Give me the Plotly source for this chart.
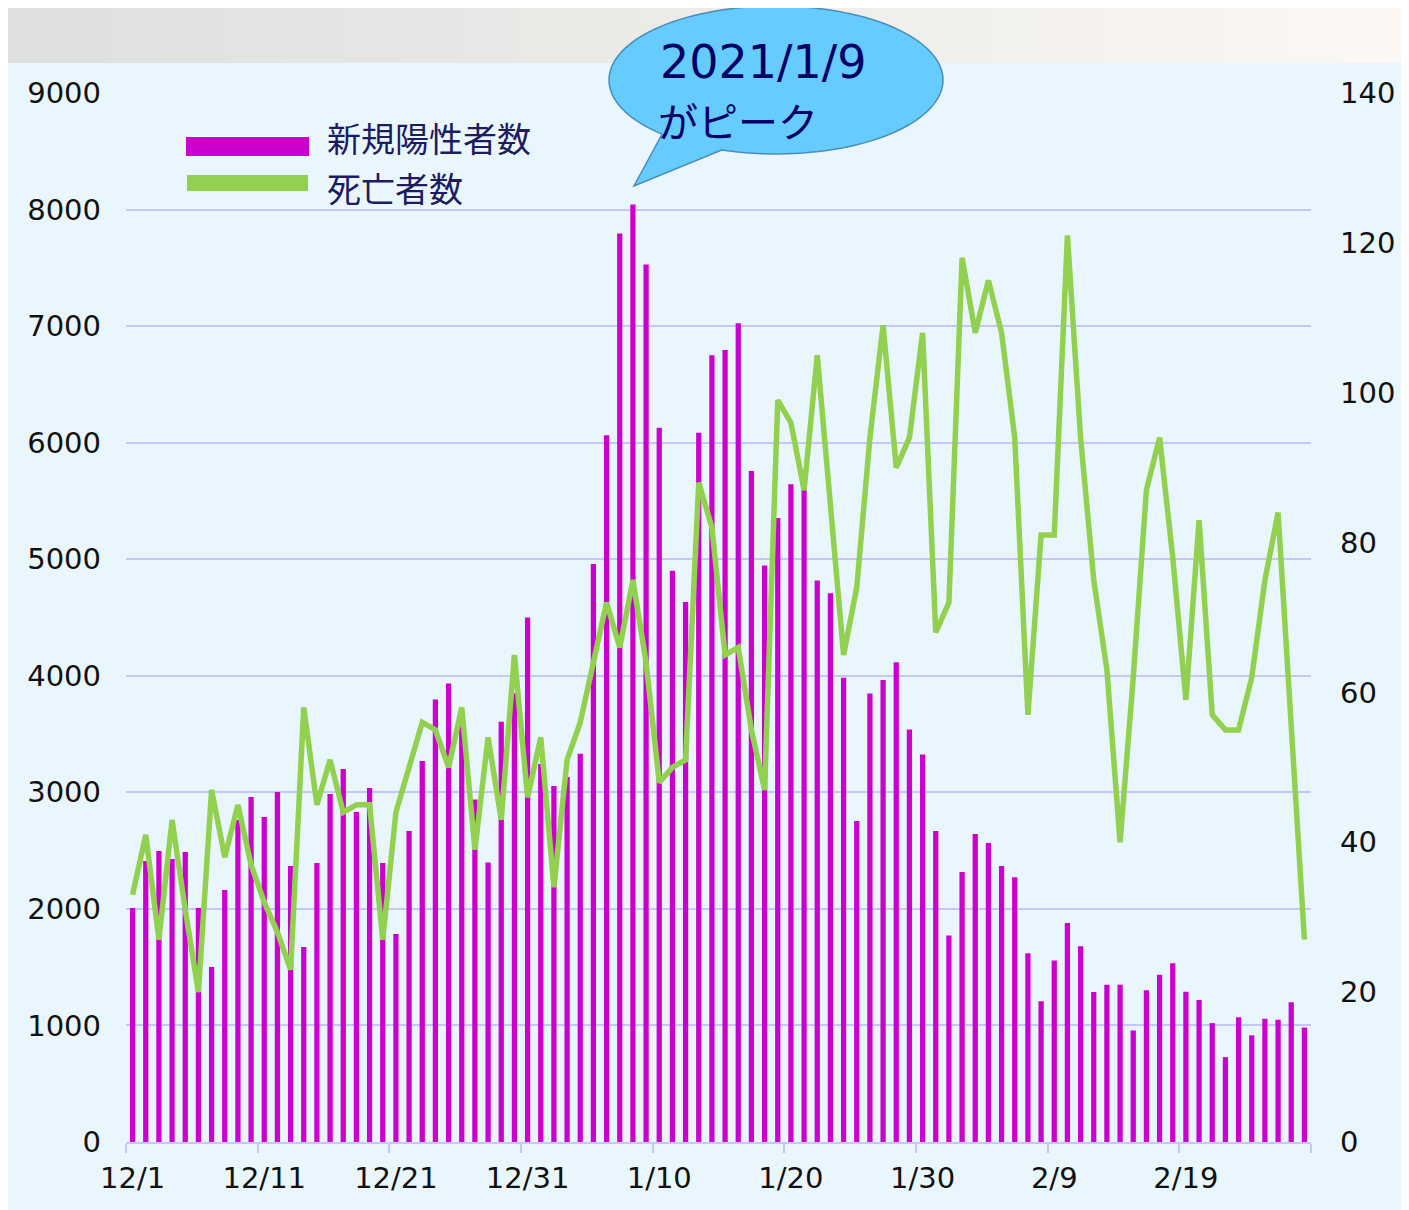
import numpy as np
import pandas as pd
import plotly.graph_objects as go

# ---------------- data ----------------
dates = pd.date_range("2020-12-01", "2021-02-28", freq="D")
date_labels = [f"{d.month}/{d.day}" for d in dates]

new_cases = [
    2008, 2411, 2497, 2428, 2488, 2008, 1501, 2162, 2762, 2960,
    2788, 3003, 2368, 1673, 2394, 2986, 3200, 2831, 3037, 2394,
    1785, 2668, 3269, 3796, 3933, 3650, 2939, 2397, 3606, 3850,
    4499, 3244, 3055, 3131, 3330, 4959, 6063, 7794, 8043, 7528,
    6129, 4901, 4633, 6085, 6751, 6795, 7025, 5757, 4946, 5354,
    5643, 5597, 4817, 4709, 3983, 2754, 3847, 3964, 4115, 3540,
    3325, 2668, 1772, 2317, 2643, 2566, 2368, 2271, 1619, 1207,
    1558, 1879, 1680, 1288, 1349, 1349, 957, 1303, 1436, 1533,
    1290, 1219, 1020, 728, 1070, 915, 1057, 1049, 1199, 982,
]

deaths = [
    33, 41, 27, 43, 31, 20, 47, 38, 45, 37,
    32, 28, 23, 58, 45, 51, 44, 45, 45, 27,
    44, 50, 56, 55, 50, 58, 39, 54, 43, 65,
    46, 54, 34, 51, 56, 64, 72, 66, 75, 64,
    48, 50, 51, 88, 82, 65, 66, 55, 47, 99,
    96, 87, 105, 85, 65, 74, 94, 109, 90, 94,
    108, 68, 72, 118, 108, 115, 108, 94, 57, 81,
    81, 121, 94, 75, 63, 40, 62, 87, 94, 78,
    59, 83, 57, 55, 55, 62, 75, 84, 54, 27,
]

tick_labels = ["12/1", "12/11", "12/21", "12/31", "1/10", "1/20", "1/30", "2/9", "2/19"]
left_ticks = [0, 1000, 2000, 3000, 4000, 5000, 6000, 7000, 8000, 9000]
right_ticks = [0, 20, 40, 60, 80, 100, 120, 140]

series_names = ["新規陽性者数", "死亡者数"]
callout_lines = ["2021/1/9", "がピーク"]

# ---------------- geometry helpers ----------------
# reference-pixel plot box: x 126..1311, y 93..1142
OFF = 8  # page body margin of the html page
W, H = 1409 - OFF, 1210 - OFF
RL, RT, RPW, RPH = 126, 93, 1185, 1049
L, T = RL - OFF, RT - OFF
R = W - L - RPW
B = H - T - RPH


def px(x):
    return (x - RL) / RPW


def py(y):
    return (RT + RPH - y) / RPH


x_idx = list(range(len(date_labels)))
tick_pos = [date_labels.index(t) for t in tick_labels]
boundaries = [i - 0.5 for i in tick_pos] + [len(date_labels) - 0.5]

MAGENTA = "#CC00CC"
GREEN = "#92D050"
GRID = "#C5C7F9"
BG = "#EAF6FE"
NAVY = "#1C1C5E"

fig = go.Figure()
fig.add_trace(go.Bar(
    x=x_idx, y=new_cases, name=series_names[0], width=0.4,
    marker=dict(color=MAGENTA, line=dict(width=0)),
    showlegend=False,
))
fig.add_trace(go.Scatter(
    x=x_idx, y=deaths, name=series_names[1], yaxis="y2", mode="lines",
    line=dict(color=GREEN, width=5.5), showlegend=False,
))

shapes = []
# top grey band (approximate gradient)
n = 24
c0 = np.array([221, 224, 223])
c1 = np.array([252, 247, 243])
for i in range(n):
    c = (c0 + (c1 - c0) * i / (n - 1)).astype(int)
    shapes.append(dict(type="rect", xref="paper", yref="paper",
                       x0=px(1409 * i / n - 10), x1=px(1409 * (i + 1) / n + 1),
                       y0=py(63), y1=py(-20), fillcolor=f"rgb({c[0]},{c[1]},{c[2]})",
                       line=dict(width=0), layer="below"))
# left thin strip
shapes.append(dict(type="rect", xref="paper", yref="paper",
                   x0=px(-10), x1=px(5), y0=py(1230), y1=py(63),
                   fillcolor="#C9D4DA", line=dict(width=0), layer="below"))

# legend swatches
shapes.append(dict(type="rect", xref="paper", yref="paper",
                   x0=px(186), x1=px(309), y0=py(156), y1=py(137),
                   fillcolor=MAGENTA, line=dict(width=0)))
shapes.append(dict(type="rect", xref="paper", yref="paper",
                   x0=px(187), x1=px(308), y0=py(191), y1=py(175),
                   fillcolor=GREEN, line=dict(width=0)))

# callout bubble (ellipse + tail as one path)
cx, cy, rx, ry = 776, 80, 167, 74
th = np.radians(np.linspace(133.0, 469.0, 120))
ex = cx + rx * np.cos(th)
ey = cy + ry * np.sin(th)
pts = [(px(a), py(b)) for a, b in zip(ex, ey)]
pts.append((px(634), py(186)))
path = "M " + " L ".join(f"{a:.5f},{b:.5f}" for a, b in pts) + " Z"
shapes.append(dict(type="path", xref="paper", yref="paper", path=path,
                   fillcolor="#66CCFF", line=dict(color="#4A8DB8", width=1.5)))

annotations = [
    dict(text=series_names[0], x=px(325), y=py(137), xref="paper", yref="paper",
         xanchor="left", yanchor="middle", showarrow=False,
         font=dict(size=34, color=NAVY, family="Noto Sans CJK JP")),
    dict(text=series_names[1], x=px(325), y=py(187), xref="paper", yref="paper",
         xanchor="left", yanchor="middle", showarrow=False,
         font=dict(size=34, color=NAVY, family="Noto Sans CJK JP")),
    dict(text=callout_lines[0], x=px(658), y=py(62), xref="paper", yref="paper",
         xanchor="left", yanchor="middle", showarrow=False,
         font=dict(size=46, color="#000066", family="DejaVu Sans")),
    dict(text=callout_lines[1], x=px(656), y=py(120), xref="paper", yref="paper",
         xanchor="left", yanchor="middle", showarrow=False,
         font=dict(size=40, color="#000066", family="Noto Sans CJK JP")),
]

tick_font = dict(size=29, color="#111111", family="DejaVu Sans")

fig.update_layout(
    width=W, height=H,
    margin=dict(l=L, r=R, t=T, b=B, pad=0),
    paper_bgcolor=BG, plot_bgcolor=BG,
    font=dict(family="Noto Sans CJK JP"),
    showlegend=False,
    shapes=shapes,
    annotations=annotations,
    xaxis=dict(
        range=[-0.5, len(date_labels) - 0.5],
        tickmode="array", tickvals=tick_pos, ticktext=tick_labels,
        ticks="", showgrid=False, zeroline=False,
        showline=True, linecolor=GRID, linewidth=2,
        tickfont=tick_font, ticklabelstandoff=9,
        minor=dict(tickmode="array", tickvals=boundaries, ticks="outside",
                   ticklen=9, tickwidth=2, tickcolor=GRID, showgrid=False),
    ),
    yaxis=dict(
        range=[0, 9000], tickmode="array", tickvals=left_ticks,
        showgrid=True, gridcolor=GRID, gridwidth=2, zeroline=False,
        ticks="", tickfont=tick_font, ticklabelstandoff=24,
        showline=False,
    ),
    yaxis2=dict(
        range=[0, 140], tickmode="array", tickvals=right_ticks,
        overlaying="y", side="right", showgrid=False, zeroline=False,
        ticks="", tickfont=tick_font, ticklabelstandoff=28,
        showline=False,
    ),
)

fig.write_html("out.html")
